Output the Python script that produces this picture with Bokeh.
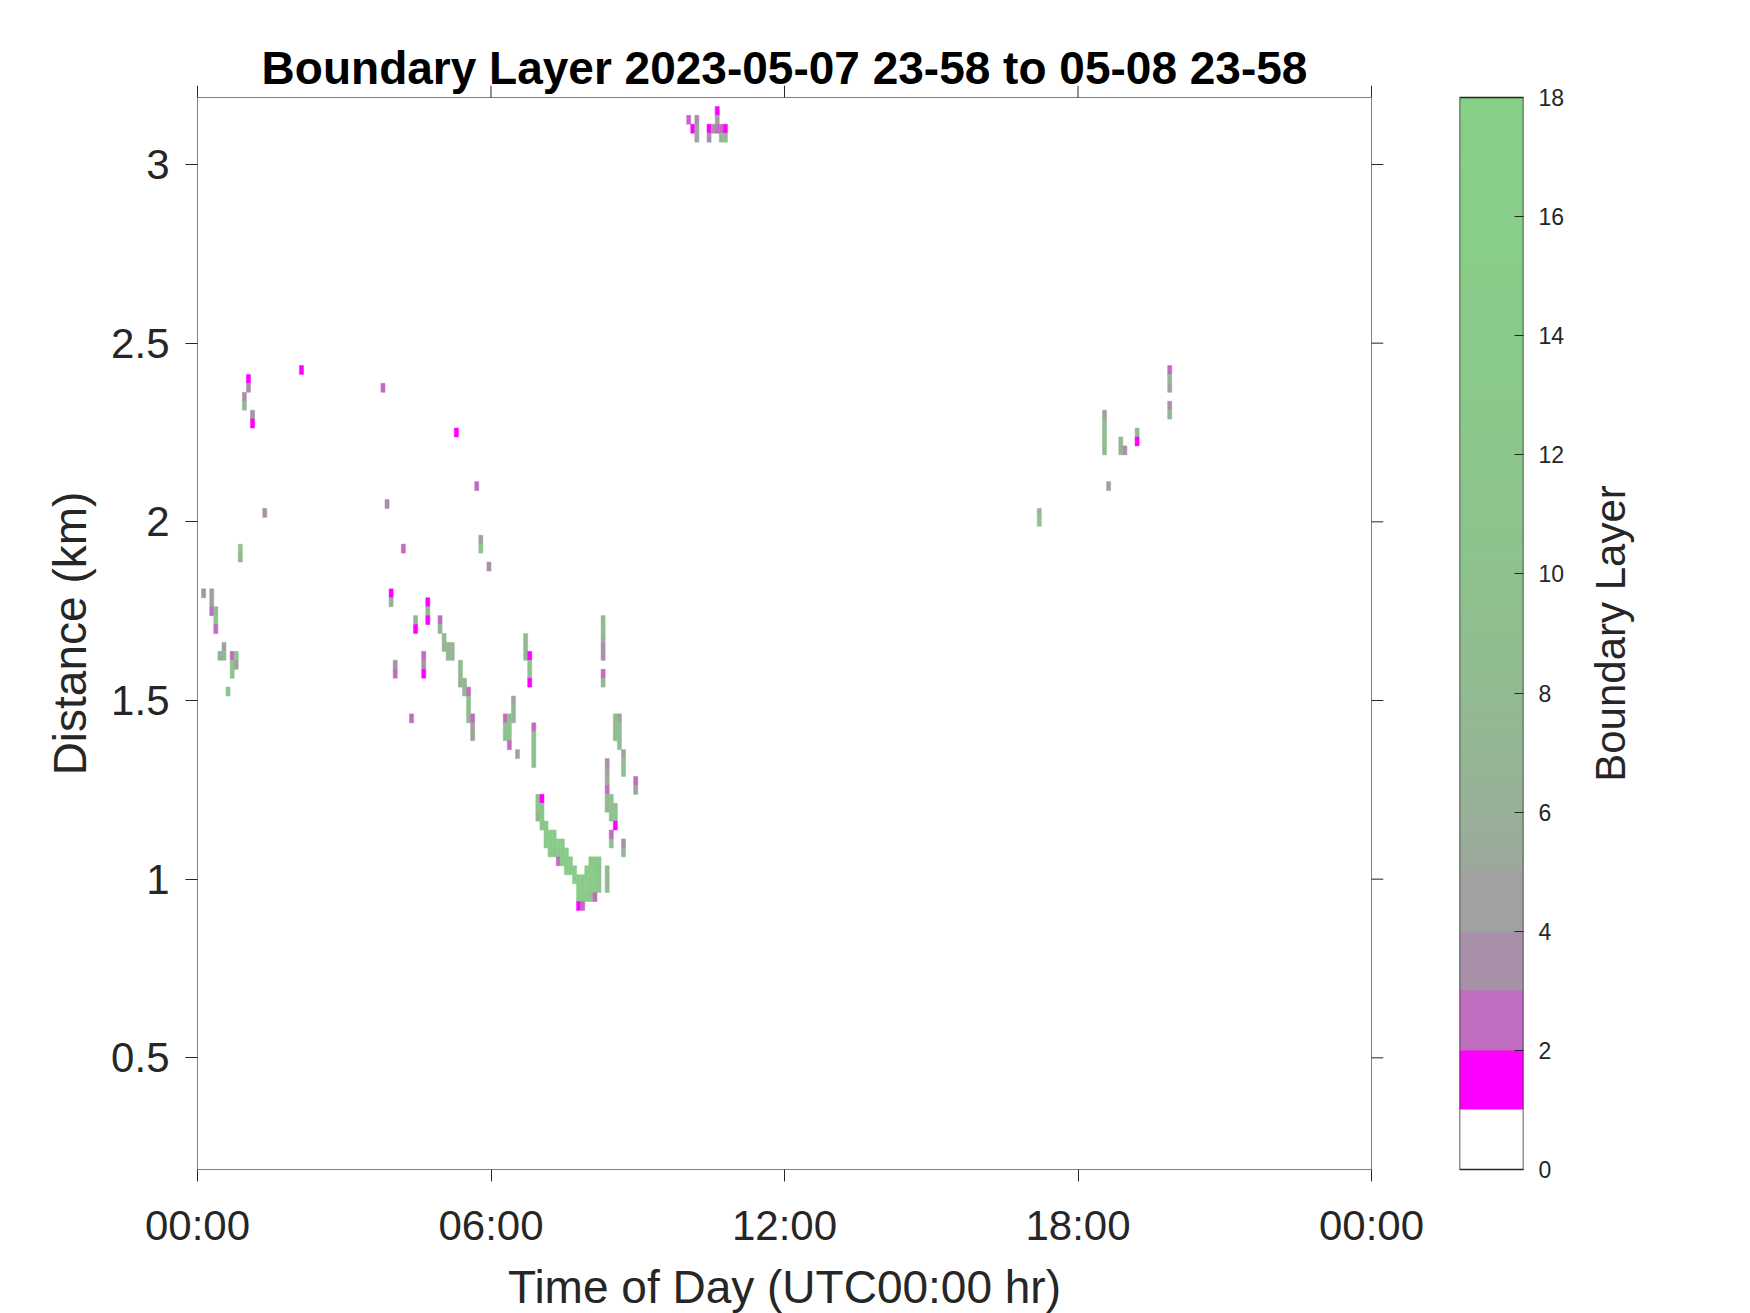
import numpy as np
from bokeh.plotting import figure
from bokeh.models import (Range1d, LinearAxis, FixedTicker, CustomJSTickFormatter,
                          LinearColorMapper, ColumnDataSource)
from bokeh.layouts import row
from bokeh.embed import file_html
from bokeh.resources import INLINE

FONT = "Liberation Sans"
TXT = "#262626"

# ---------------- texts / ticks ----------------
title_text = "Boundary Layer 2023-05-07 23-58 to 05-08 23-58"
x_label = "Time of Day (UTC00:00 hr)"
y_label = "Distance (km)"
cbar_label = "Boundary Layer"
x_ticks_h = [0, 6, 12, 18, 24]
x_tick_labels = ["00:00", "06:00", "12:00", "18:00", "00:00"]
y_ticks_km = [0.5, 1, 1.5, 2, 2.5, 3]
y_tick_labels = ["0.5", "1", "1.5", "2", "2.5", "3"]
cbar_ticks = [0, 2, 4, 6, 8, 10, 12, 14, 16, 18]
cbar_tick_labels = ["0", "2", "4", "6", "8", "10", "12", "14", "16", "18"]
x_limits = [0, 24]
y_limits = [0.1875, 3.1875]
value_limits = [0, 18]
bin_minutes = 5      # time resolution of a cell
gate_km = 0.025      # height resolution of a cell

# ---------------- data: 5-min bin index, height (km), boundary-layer value ----------------
bin_index = [
    25, 12, 12, 11, 11, 13, 13, 45, 63, 68, 46, 16, 10, 10, 50, 69, 69,
    1, 3, 3, 3, 4, 4, 4, 6, 6, 5, 8, 8, 8, 9, 9, 7,
    71, 47, 47, 48, 48, 53, 53, 56, 56, 56, 55, 55, 55, 52, 59, 59,
    60, 60, 61, 61, 62, 62, 64, 64, 64, 65, 65, 66, 66, 66, 66, 67, 67, 67,
    75, 75, 75, 76, 76, 76, 76, 77, 77, 77, 78,
    80, 80, 80, 81, 81, 81, 81, 82, 82, 82, 82, 82,
    99, 99, 99, 99, 99, 99, 99,
    102, 102, 102, 103, 103, 103, 103, 104, 104, 104, 107, 107,
    100, 100, 100, 100, 100, 100, 101, 101, 101, 101, 101, 102, 102, 102,
    104, 104, 100, 100, 100,
    83, 83, 83, 84, 84, 84, 84, 85, 85, 85, 86, 86, 86, 87, 87, 87,
    88, 88, 88, 89, 89, 89, 90, 90, 90, 91, 91, 92, 92,
    93, 93, 93, 93, 94, 94, 94, 94, 95, 95, 95, 95,
    96, 96, 96, 96, 96, 97, 97, 97, 97, 97, 98, 98, 98, 98,
    120, 121, 122, 122, 122, 125, 125, 126, 127, 127, 127, 128, 128, 129, 129,
    206, 206, 222, 222, 222, 222, 222, 223, 226, 226, 227, 230, 230,
    238, 238, 238, 238, 238,
]
height_km = [
    2.425, 2.400, 2.375, 2.350, 2.325, 2.300, 2.275, 2.375, 2.250, 2.100, 2.050, 2.025, 1.925, 1.900, 1.925, 1.950, 1.925,
    1.800, 1.800, 1.775, 1.750, 1.750, 1.725, 1.700, 1.650, 1.625, 1.625, 1.625, 1.600, 1.575, 1.625, 1.600, 1.525,
    1.875, 1.800, 1.775, 1.600, 1.575, 1.725, 1.700, 1.775, 1.750, 1.725, 1.625, 1.600, 1.575, 1.450, 1.725, 1.700,
    1.675, 1.650, 1.650, 1.625, 1.650, 1.625, 1.600, 1.575, 1.550, 1.550, 1.525, 1.525, 1.500, 1.475, 1.450, 1.450, 1.425, 1.400,
    1.450, 1.425, 1.400, 1.450, 1.425, 1.400, 1.375, 1.500, 1.475, 1.450, 1.350,
    1.675, 1.650, 1.625, 1.625, 1.600, 1.575, 1.550, 1.425, 1.400, 1.375, 1.350, 1.325,
    1.725, 1.700, 1.675, 1.650, 1.625, 1.575, 1.550,
    1.450, 1.425, 1.400, 1.450, 1.425, 1.400, 1.375, 1.350, 1.325, 1.300, 1.275, 1.250,
    1.325, 1.300, 1.275, 1.250, 1.225, 1.200, 1.225, 1.200, 1.175, 1.125, 1.100, 1.200, 1.175, 1.150,
    1.100, 1.075, 1.025, 1.000, 0.975,
    1.225, 1.200, 1.175, 1.225, 1.200, 1.175, 1.150, 1.150, 1.125, 1.100, 1.125, 1.100, 1.075, 1.125, 1.100, 1.075,
    1.100, 1.075, 1.050, 1.100, 1.075, 1.050, 1.075, 1.050, 1.025, 1.050, 1.025, 1.025, 1.000,
    1.000, 0.975, 0.950, 0.925, 1.000, 0.975, 0.950, 0.925, 1.025, 1.000, 0.975, 0.950,
    1.050, 1.025, 1.000, 0.975, 0.950, 1.050, 1.025, 1.000, 0.975, 0.950, 1.050, 1.025, 1.000, 0.975,
    3.125, 3.100, 3.125, 3.100, 3.075, 3.100, 3.075, 3.100, 3.150, 3.125, 3.100, 3.100, 3.075, 3.100, 3.075,
    2.025, 2.000, 2.300, 2.275, 2.250, 2.225, 2.200, 2.100, 2.225, 2.200, 2.200, 2.250, 2.225,
    2.425, 2.400, 2.375, 2.325, 2.300,
]
bl_value = [
    1.5, 1.5, 3.5, 3.5, 7, 3.5, 1.5, 2.5, 1.5, 2.5, 3.5, 3.5, 12, 7, 2.5, 4.5, 10,
    3.5, 4.5, 4.5, 2.5, 8, 12, 2.5, 4.5, 7, 6, 2.5, 12, 12, 10, 4.5, 12,
    3.5, 1.5, 6, 3.5, 2.5, 7, 1.5, 1.5, 7, 1.5, 2.5, 3.5, 1.5, 2.5, 2.5, 7,
    7, 7, 7, 7, 7, 7, 8, 8, 6, 7, 8, 2.5, 9, 9, 8, 2.5, 4.5, 4.5,
    2.5, 10, 10, 10, 10, 10, 2.5, 4.5, 7, 7, 4.5,
    7, 7, 7, 1.5, 10, 10, 1.5, 2.5, 9, 9, 9, 9,
    7, 9, 6, 3.5, 3.5, 2.5, 7,
    8, 8, 8, 4.5, 9, 9, 9, 4.5, 9, 9, 2.5, 4.5,
    3.5, 4.5, 6, 2.5, 7, 7, 10, 10, 10, 2.5, 9, 10, 12, 1.5,
    3.5, 7, 8, 8, 8,
    10, 12, 7, 1.5, 12, 12, 12, 12, 14, 14, 14, 14, 14, 14, 14, 12,
    14, 12, 2.5, 14, 14, 14, 14, 14, 14, 14, 14, 14, 14,
    14, 14, 14, 1.5, 14, 16, 16, 2.5, 14, 16, 16, 12,
    12, 14, 16, 14, 12, 12, 14, 14, 14, 2.5, 12, 12, 12, 12,
    2.5, 1.5, 3.5, 4.5, 4.5, 1.5, 3.5, 3.5, 1.5, 4.5, 2.5, 2.5, 7, 1.5, 7,
    7, 10, 4.5, 8, 9, 9, 8, 4.5, 8, 7, 3.5, 8, 1.5,
    2.5, 7, 4.5, 3.5, 7,
]

# ---------------- colormap (white | magenta | orchid | grey-purple | grey | grey-green -> green) ----------------
band_colors = ["#FFFFFF", "#FF00FF", "#C06CC0", "#A891A8", "#9FA29F"]
green_stops_v = [5, 7, 10, 14, 18]
green_stops_rgb = [(156, 168, 156), (148, 182, 148), (141, 194, 141), (137, 203, 137), (135, 208, 135)]
palette = []
for k in range(180):
    v = (k + 0.5) / 10.0
    if v < 5:
        palette.append(band_colors[int(v)])
    else:
        rgb = [int(round(np.interp(v, green_stops_v, [c[j] for c in green_stops_rgb]))) for j in range(3)]
        palette.append("#%02X%02X%02X" % tuple(rgb))
mapper = LinearColorMapper(palette=palette, low=value_limits[0], high=value_limits[1])

# ---------------- cells ----------------
idx = np.array(bin_index, dtype=float)
hgt = np.array(height_km)
src = ColumnDataSource(dict(
    left=idx * bin_minutes / 60.0,
    right=(idx + 1) * bin_minutes / 60.0,
    bottom=hgt - gate_km / 2,
    top=hgt + gate_km / 2,
    v=bl_value,
))


def label_formatter(tick_vals, tick_texts):
    return CustomJSTickFormatter(args=dict(tv=tick_vals, tt=tick_texts), code="""
        for (let i = 0; i < tv.length; i++) {
            if (Math.abs(tv[i] - tick) < 1e-6) { return tt[i]; }
        }
        return '';
    """)


def style_axis(ax, tick_vals, tick_texts, size="42px", tick_out=0, tick_in=12, standoff=18):
    ax.ticker = FixedTicker(ticks=tick_vals)
    ax.formatter = label_formatter(tick_vals, tick_texts)
    ax.axis_line_color = None
    ax.major_tick_out = tick_out
    ax.major_tick_in = tick_in
    ax.major_tick_line_color = TXT
    ax.major_tick_line_width = 1
    ax.minor_tick_line_color = None
    ax.major_label_text_font = FONT
    ax.major_label_text_color = TXT
    ax.major_label_standoff = standoff
    ax.major_label_text_font_size = size
    ax.axis_label_text_font = FONT
    ax.axis_label_text_font_size = "46px"
    ax.axis_label_text_font_style = "normal"
    ax.axis_label_text_color = TXT


# layout (pixels); frames of a row are aligned, so all three share the same vertical geometry
BOX_W, BOX_H = 1174, 1072        # axes box
TICK = 12                        # outward tick length; every frame is padded by it vertically
BOX_LEFT, BOX_TOP = 197, 97
FRAME_TOP = BOX_TOP - TICK
FRAME_H = BOX_H + 2 * TICK
BOTTOM = 132
pad_h = TICK * (x_limits[1] - x_limits[0]) / BOX_W
pad_km = TICK * (y_limits[1] - y_limits[0]) / BOX_H
pad_v = TICK * (value_limits[1] - value_limits[0]) / BOX_H

p = figure(frame_width=BOX_W + 2 * TICK, frame_height=FRAME_H,
           x_range=Range1d(x_limits[0] - pad_h, x_limits[1] + pad_h),
           y_range=Range1d(y_limits[0] - pad_km, y_limits[1] + pad_km),
           output_backend="svg", toolbar_location=None,
           min_border_left=BOX_LEFT - TICK, min_border_right=48,
           min_border_top=FRAME_TOP, min_border_bottom=BOTTOM,
           title=title_text)
p.title.text_font = FONT
p.title.text_font_size = "46px"
p.title.text_font_style = "bold"
p.title.text_color = "#000000"
p.title.align = "center"
try:
    p.title.standoff = -16
except Exception:
    p.title.standoff = 0
p.grid.visible = False
p.outline_line_color = None
p.background_fill_color = "white"
p.border_fill_color = "white"

p.quad(left="left", right="right", bottom="bottom", top="top", source=src,
       fill_color={"field": "v", "transform": mapper},
       line_color={"field": "v", "transform": mapper}, line_width=0.5)

# axes box
p.quad(left=[x_limits[0]], right=[x_limits[1]], bottom=[y_limits[0]], top=[y_limits[1]],
       fill_color=None, line_color="#7F7F7F", line_width=1)
# outward ticks on the top and right sides of the box
p.segment(x0=x_ticks_h, x1=x_ticks_h, y0=[y_limits[1]] * len(x_ticks_h),
          y1=[y_limits[1] + pad_km] * len(x_ticks_h), line_color=TXT, line_width=1)
p.segment(x0=[x_limits[1]] * len(y_ticks_km), x1=[x_limits[1] + pad_h] * len(y_ticks_km),
          y0=y_ticks_km, y1=y_ticks_km, line_color=TXT, line_width=1)

xa = p.xaxis[0]
style_axis(xa, x_ticks_h, x_tick_labels, standoff=20)
xa.axis_label = x_label
xa.axis_label_standoff = 9
ya = p.yaxis[0]
style_axis(ya, y_ticks_km, y_tick_labels, standoff=16)
ya.axis_label = y_label
ya.axis_label_standoff = 12

main_w = (BOX_LEFT - TICK) + BOX_W + 2 * TICK + 48

# ---------------- colour bar ----------------
CB_LEFT = 1459
cb = figure(frame_width=64, frame_height=FRAME_H,
            x_range=Range1d(0, 1),
            y_range=Range1d(value_limits[0] - pad_v, value_limits[1] + pad_v),
            output_backend="svg", toolbar_location=None,
            x_axis_location=None, y_axis_location=None,
            min_border_left=CB_LEFT - main_w, min_border_right=60,
            min_border_top=FRAME_TOP, min_border_bottom=BOTTOM)
cb.grid.visible = False
cb.outline_line_color = None
cb.border_fill_color = "white"
grad = np.arange(0.005, value_limits[1], 0.01).reshape(-1, 1)
cb.image(image=[grad], x=0, y=value_limits[0], dw=1, dh=value_limits[1] - value_limits[0],
         color_mapper=mapper)
cb.quad(left=[0], right=[1], bottom=[value_limits[0]], top=[value_limits[1]],
        fill_color=None, line_color=TXT, line_width=1.5)
cb_ax = LinearAxis()
style_axis(cb_ax, cbar_ticks, cbar_tick_labels, size="23px", tick_out=0, tick_in=9, standoff=15)
cb.add_layout(cb_ax, "right")

# colour-bar title (reads bottom-to-top, like a left axis label)
lab = figure(frame_width=10, frame_height=FRAME_H,
             x_range=Range1d(0, 1), y_range=Range1d(0, 1),
             output_backend="svg", toolbar_location=None,
             x_axis_location=None, y_axis_location=None,
             min_border_left=60, min_border_right=0,
             min_border_top=FRAME_TOP, min_border_bottom=BOTTOM)
lab.grid.visible = False
lab.outline_line_color = None
lab.border_fill_color = "white"
lab_ax = LinearAxis(ticker=FixedTicker(ticks=[]), axis_label=cbar_label)
lab_ax.axis_line_color = None
lab_ax.major_tick_line_color = None
lab_ax.minor_tick_line_color = None
lab_ax.axis_label_standoff = 12
lab_ax.axis_label_text_font = FONT
lab_ax.axis_label_text_font_size = "42px"
lab_ax.axis_label_text_font_style = "normal"
lab_ax.axis_label_text_color = TXT
lab.add_layout(lab_ax, "left")

layout = row(p, cb, lab)
open("out.html", "w").write(file_html(layout, INLINE))
